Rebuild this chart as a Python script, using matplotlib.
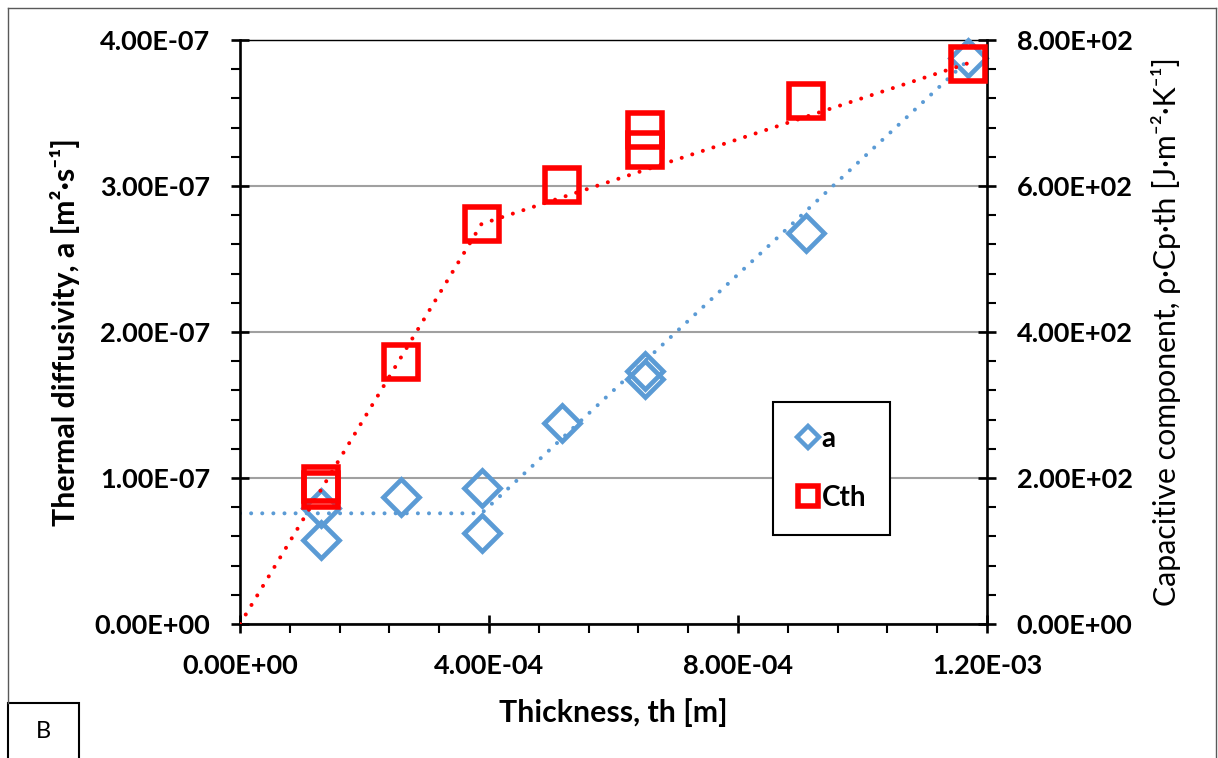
import matplotlib
matplotlib.use("Agg")
import matplotlib.pyplot as plt
from matplotlib.ticker import MultipleLocator, FuncFormatter
from matplotlib.lines import Line2D
from matplotlib.patches import Rectangle

plt.rcParams["font.family"] = ["Lato", "DejaVu Sans"]
plt.rcParams["font.weight"] = "bold"
plt.rcParams["axes.labelweight"] = "bold"

# Thermal diffusivity a [m2/s] vs thickness
th_a = [1.30e-4, 1.30e-4, 2.58e-4, 3.88e-4, 3.88e-4, 5.18e-4, 6.50e-4, 6.50e-4, 9.09e-4, 1.169e-3]
a = [7.95e-8, 5.75e-8, 8.72e-8, 9.30e-8, 6.20e-8, 1.38e-7, 1.73e-7, 1.68e-7, 2.68e-7, 3.88e-7]

# Capacitive component Cth [J/m2/K] vs thickness
th_cth = [1.30e-4, 1.30e-4, 2.58e-4, 3.88e-4, 5.18e-4, 6.50e-4, 6.50e-4, 9.09e-4, 1.169e-3]
cth = [192, 183, 359, 548, 601, 677, 649, 716, 767]

# dotted trend lines
a_fit_x = [0, 3.88e-4, 1.169e-3]
a_fit_y = [7.58e-8, 7.58e-8, 3.86e-7]
cth_fit_x = [0, 3.88e-4, 1.169e-3]
cth_fit_y = [0, 548, 768]

blue = "#5B9BD5"
red = "#FF0000"
dot = (0, (0.01, 2.75))

W, H = 1218, 758
fig = plt.figure(figsize=(W / 100, H / 100), dpi=100)


def fx(px):
    return px / W


def fy(py):
    return 1 - py / H


ax = fig.add_axes([fx(240), fy(624), fx(987) - fx(240), fy(40) - fy(624)])
ax2 = ax.twinx()

ax.plot(a_fit_x, a_fit_y, color=blue, lw=2.9, ls=dot, dash_capstyle="round", zorder=2)
ax.plot(th_a, a, ls="none", marker="D", ms=18, mfc="none", mec=blue, mew=3.4,
        zorder=3, clip_on=False)
ax2.plot(cth_fit_x, cth_fit_y, color=red, lw=2.9, ls=dot, dash_capstyle="round", zorder=2)
ax2.plot(th_cth, cth, ls="none", marker="s", ms=25, mfc="none", mec=red, mew=4,
         zorder=3, clip_on=False)

ax.set_xlim(0, 1.2e-3)
ax.set_ylim(0, 4e-7)
ax2.set_ylim(0, 800)

sci = FuncFormatter(lambda v, p: f"{v:.2E}")
ax.xaxis.set_major_locator(MultipleLocator(4e-4))
ax.xaxis.set_minor_locator(MultipleLocator(0.8e-4))
ax.yaxis.set_major_locator(MultipleLocator(1e-7))
ax.yaxis.set_minor_locator(MultipleLocator(0.2e-7))
ax2.yaxis.set_major_locator(MultipleLocator(200))
ax2.yaxis.set_minor_locator(MultipleLocator(40))
ax.xaxis.set_major_formatter(sci)
ax.yaxis.set_major_formatter(sci)
ax2.yaxis.set_major_formatter(sci)

for axis in (ax, ax2):
    axis.tick_params(which="major", direction="inout", length=13, width=1.9,
                     labelsize=19.5, pad=15, colors="black")
    axis.tick_params(which="minor", direction="out", length=6.5, width=1.5)

ax.yaxis.grid(True, which="major", color="#a0a0a0", lw=1.5)
ax.set_axisbelow(True)

for s in ("left", "bottom"):
    ax.spines[s].set_linewidth(1.9)
ax.spines["top"].set_linewidth(1)
ax.spines["right"].set_visible(False)
for s in ("left", "bottom", "top"):
    ax2.spines[s].set_visible(False)
ax2.spines["right"].set_linewidth(1.9)

ax.set_xlabel("Thickness, th [m]", fontsize=21.8, va="center")
ax.xaxis.set_label_coords(0.5, (624 - 713) / 584)
ax.set_ylabel("Thermal diffusivity, a [m²·s⁻¹]", fontsize=21.8, va="center")
ax.yaxis.set_label_coords((65 - 240) / 747, 0.5)
ax2.set_ylabel("Capacitive component, ρ·Cp·th [J·m⁻²·K⁻¹]", fontsize=21.8,
               fontweight="normal", va="center", rotation=90)
ax2.yaxis.set_label_coords((1166 - 240) / 747, 0.5)

handles = [
    Line2D([], [], ls="none", marker="D", ms=11, mfc="none", mec=blue, mew=3.2),
    Line2D([], [], ls="none", marker="s", ms=14, mfc="none", mec=red, mew=4),
]
leg = ax2.legend(handles, ["a", "Cth"], loc="upper left",
                 bbox_to_anchor=(fx(773), fy(402)), bbox_transform=fig.transFigure,
                 fancybox=False, edgecolor="black", framealpha=1, fontsize=20,
                 labelspacing=1.2, handlelength=0.8, handletextpad=0.1,
                 borderpad=0.85, borderaxespad=0)
leg.get_frame().set_linewidth(1.5)

# outer chart border and panel tag
border = "#595959"
fig.add_artist(Line2D([fx(8), fx(1216)], [fy(8), fy(8)], transform=fig.transFigure, color=border, lw=1))
fig.add_artist(Line2D([fx(8), fx(8)], [fy(8), fy(703)], transform=fig.transFigure, color=border, lw=1))
fig.add_artist(Line2D([fx(1216), fx(1216)], [fy(8), fy(758)], transform=fig.transFigure, color=border, lw=1))
fig.add_artist(Rectangle((fx(8), fy(760)), fx(79) - fx(8), (760 - 703) / H,
                         transform=fig.transFigure, facecolor="white",
                         edgecolor="black", lw=1.5))
fig.text(fx(43), fy(731), "B", ha="center", va="center", fontsize=17, fontweight="normal")

fig.savefig("out.png", dpi=100)
